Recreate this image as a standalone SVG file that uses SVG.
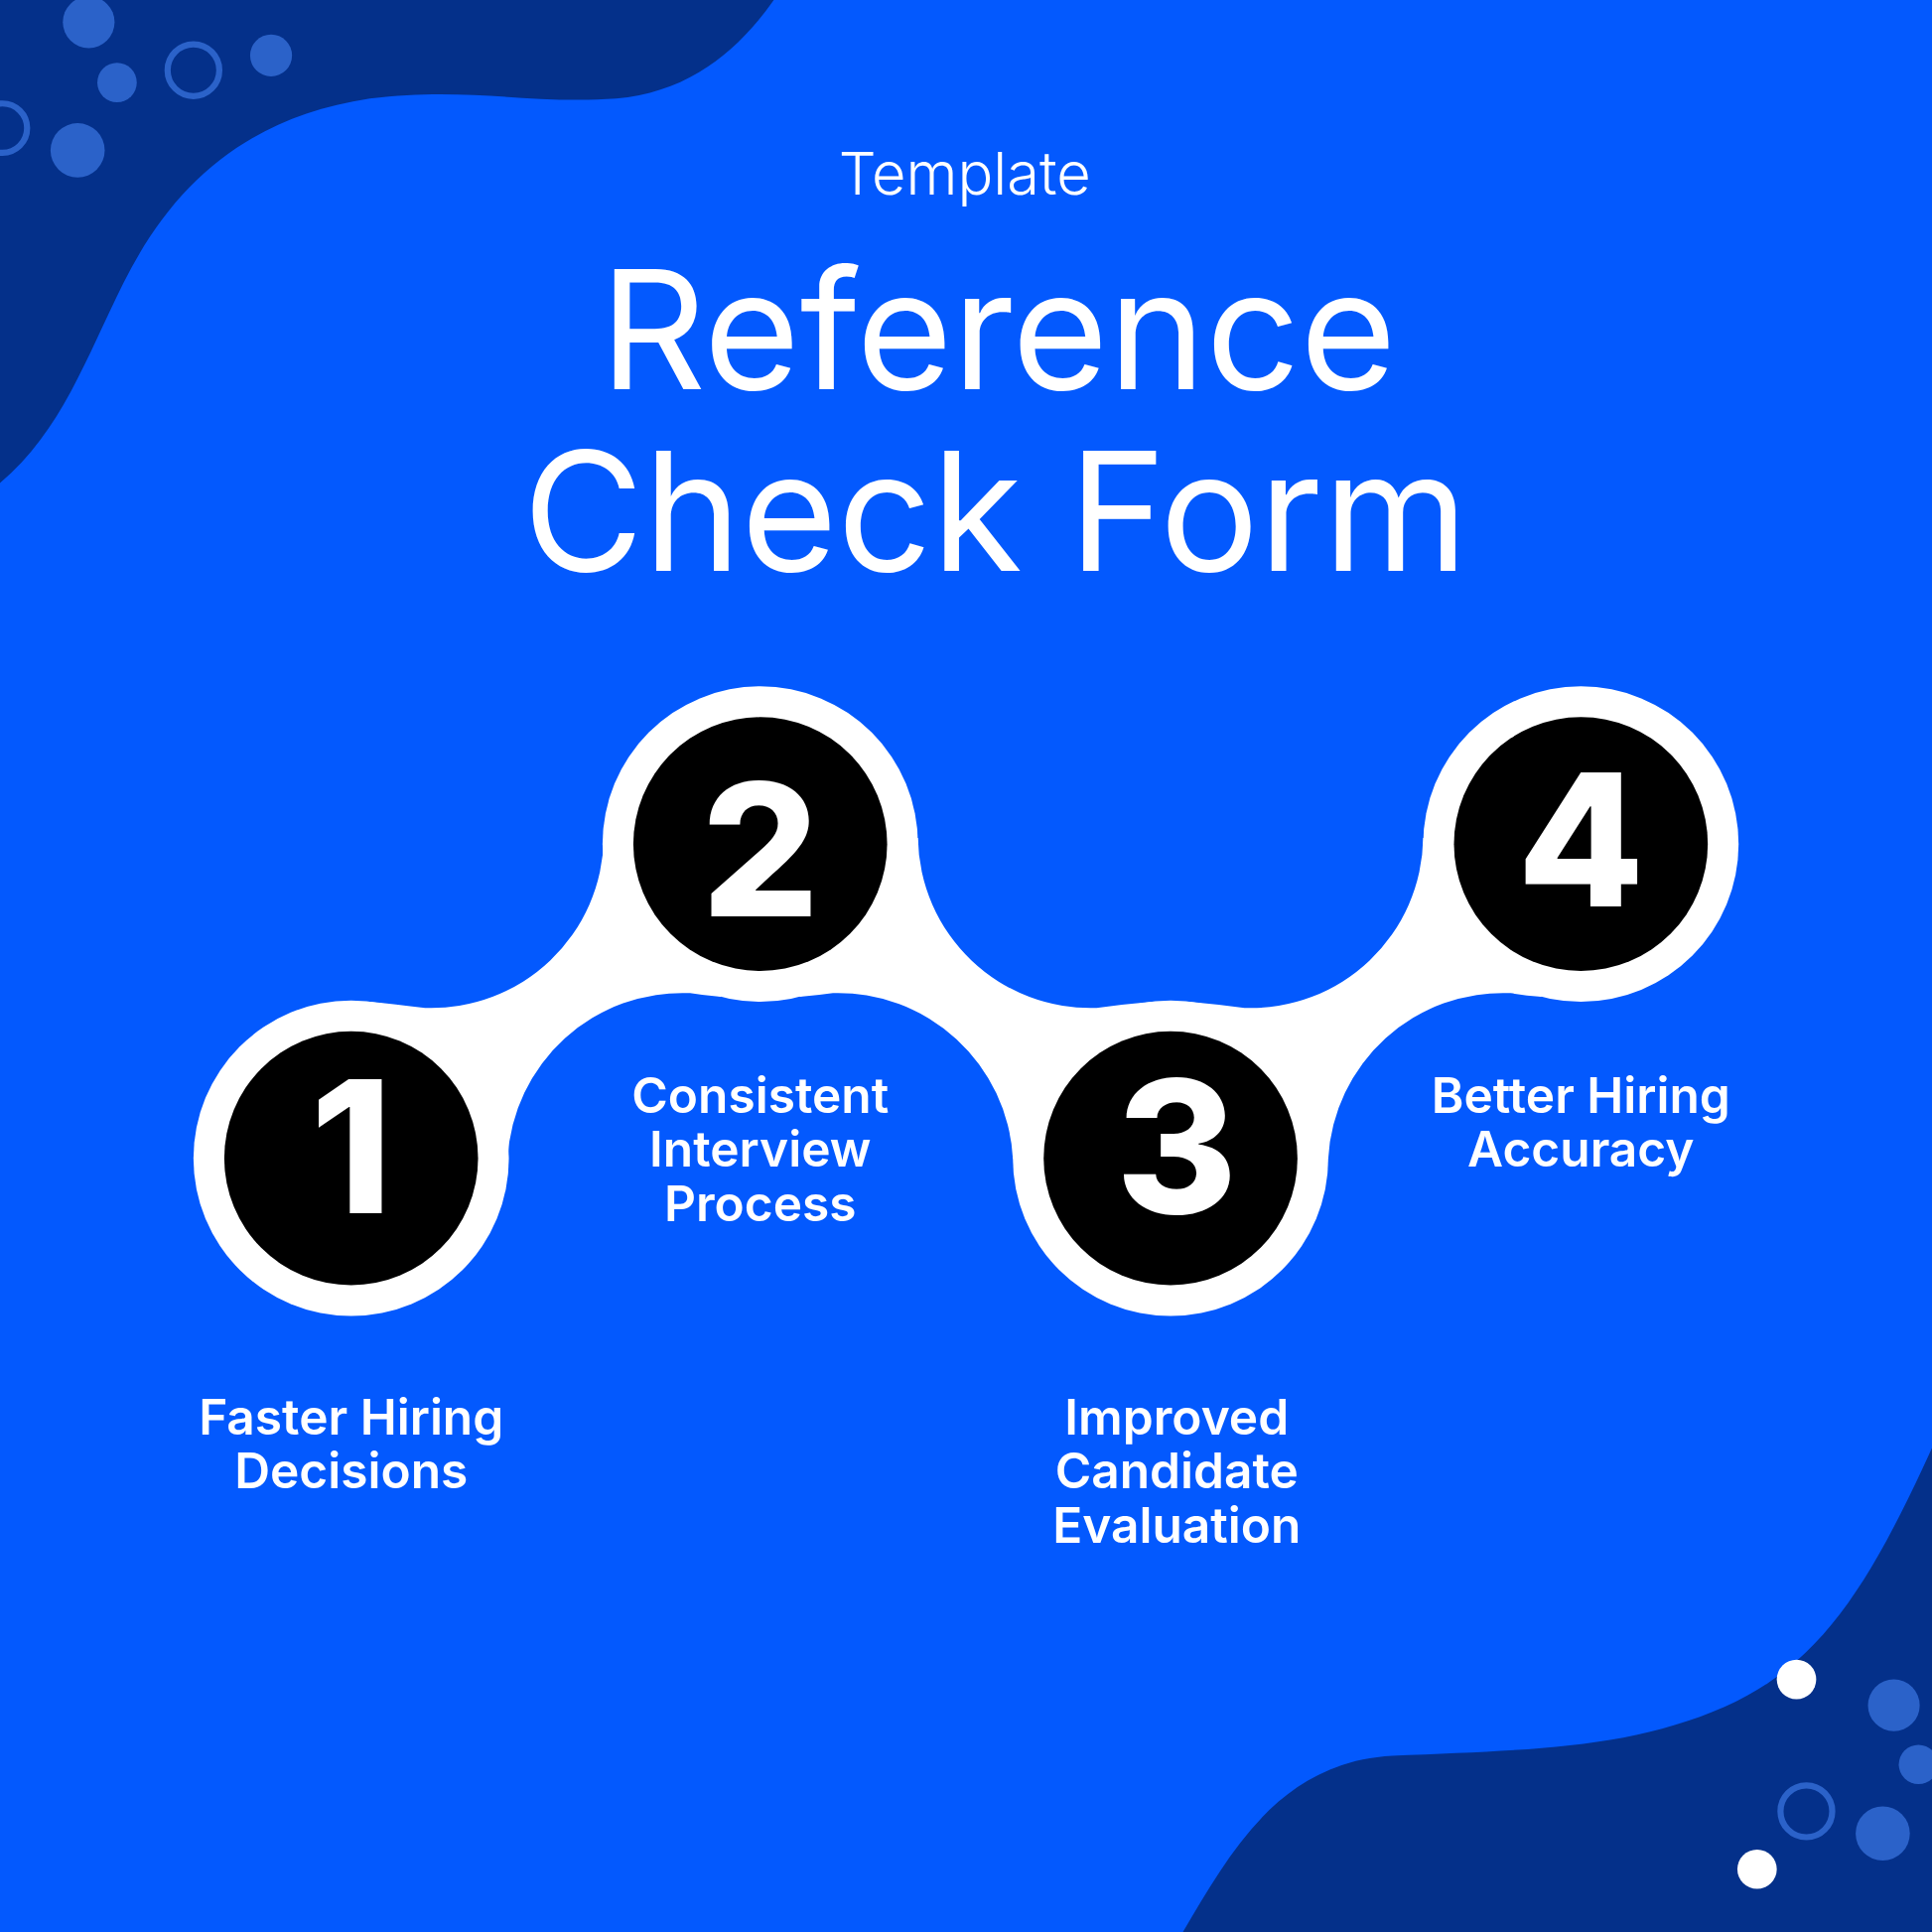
<svg xmlns="http://www.w3.org/2000/svg" width="1946" height="1946" viewBox="0 0 1946 1946">
<style>
.t{fill:#fff;font-family:Inter,"Open Sans",sans-serif;text-anchor:middle}
.lab{font-size:40px;font-weight:600}
.num{font-size:150px;font-weight:800;fill:#fff;font-family:Inter,"Liberation Sans",sans-serif;text-anchor:middle}
.dot{fill:#2B62C9}
.ring{fill:none;stroke:#2B62C9;stroke-width:5}
</style>
<rect width="1946" height="1946" fill="#0359FE"/>
<g transform="scale(1.2411)">
<g id="decor">
<path d="M0,0 L628,0 C600,40 560,75 500,80 C430,85 380,70 300,80 C200,95 140,150 100,230 C70,290 50,350 0,392 Z" fill="#04308A"/>
<path d="M1568,1175 C1520,1280 1480,1350 1400,1385 C1320,1420 1240,1420 1130,1425 C1040,1430 1000,1500 960,1568 L1568,1568 Z" fill="#04308A"/>
<circle class="dot" cx="72" cy="18" r="21"/>
<circle class="dot" cx="95" cy="67" r="16"/>
<circle class="dot" cx="220" cy="45" r="17"/>
<circle class="dot" cx="63" cy="122" r="22"/>
<circle class="ring" cx="157" cy="57" r="21"/>
<circle class="ring" cx="2" cy="104" r="20"/>
<circle class="dot" cx="1537" cy="1384" r="21"/>
<circle class="dot" cx="1557" cy="1432" r="16"/>
<circle class="dot" cx="1528" cy="1488" r="22"/>
<circle class="ring" cx="1466" cy="1470" r="21"/>
<circle cx="1458" cy="1363" r="16" fill="#fff"/>
<circle cx="1426" cy="1517" r="16" fill="#fff"/>
</g>
<g id="title">
<text class="t" x="783" y="158" font-size="48" font-weight="300">Template</text>
<text class="t" x="810" y="316" font-size="134" font-weight="400">Reference</text>
<text class="t" x="808" y="463" font-size="134" font-weight="400">Check Form</text>
</g>
<g id="connectors" fill="#fff">
<path d="M285,850 L300,813 Q320,815 345,818 A140 140 0 0 0 490,680 L617,685 L585,809 Q572,808 560,806 A142 142 0 0 0 412,940 L285,940 Z"/>
<path d="M617,685 L745,680 A140 140 0 0 0 890,818 Q912,815 935,813 L950,850 L950,940 L822,940 A142 142 0 0 0 676,806 Q662,808 649,809 Z"/>
<path d="M950,850 L965,813 Q987,815 1010,818 A140 140 0 0 0 1155,680 L1283,685 L1251,809 Q1238,808 1226,806 A142 142 0 0 0 1078,940 L950,940 Z"/>
</g>
<g id="n1"><circle cx="285" cy="940" r="128" fill="#fff"/><circle cx="285" cy="940" r="103" fill="#000"/><text class="num" x="285" y="985">1</text><text class="t lab" x="285" y="1164">Faster Hiring</text><text class="t lab" x="285" y="1208">Decisions</text></g>
<g id="n2"><circle cx="617" cy="685" r="128" fill="#fff"/><circle cx="617" cy="685" r="103" fill="#000"/><text class="num" x="617" y="744">2</text><text class="t lab" x="617" y="903">Consistent</text><text class="t lab" x="617" y="947">Interview</text><text class="t lab" x="617" y="991">Process</text></g>
<g id="n3"><circle cx="950" cy="940" r="128" fill="#fff"/><circle cx="950" cy="940" r="103" fill="#000"/><text class="num" x="955" y="985">3</text><text class="t lab" x="955" y="1164">Improved</text><text class="t lab" x="955" y="1208">Candidate</text><text class="t lab" x="955" y="1252">Evaluation</text></g>
<g id="n4"><circle cx="1283" cy="685" r="128" fill="#fff"/><circle cx="1283" cy="685" r="103" fill="#000"/><text class="num" x="1283" y="736">4</text><text class="t lab" x="1283" y="903">Better Hiring</text><text class="t lab" x="1283" y="947">Accuracy</text></g>
</g>
</svg>
